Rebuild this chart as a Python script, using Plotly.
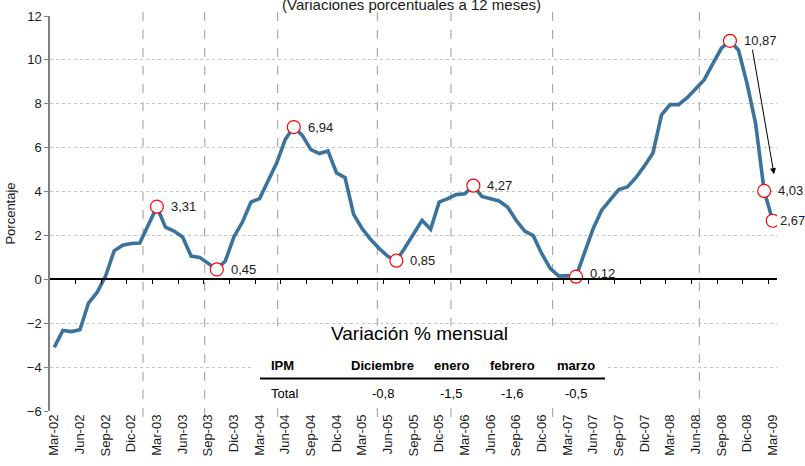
import plotly.graph_objects as go

# ---------------- data ----------------
ipm_12m = [-3.1, -2.33, -2.38, -2.3, -1.08, -0.6, 0.15, 1.3, 1.55, 1.63,
           1.65, 2.46, 3.31, 2.38, 2.2, 1.93, 1.06, 1.0, 0.74, 0.45,
           0.84, 1.93, 2.61, 3.52, 3.68, 4.51, 5.3, 6.37, 6.94, 6.56,
           5.91, 5.73, 5.85, 4.85, 4.63, 2.96, 2.31, 1.81, 1.4, 1.05,
           0.85, 1.44, 2.05, 2.69, 2.28, 3.52, 3.68, 3.86, 3.9, 4.27,
           3.78, 3.68, 3.57, 3.3, 2.69, 2.2, 1.99, 1.17, 0.49, 0.15,
           0.17, 0.12, 1.17, 2.31, 3.15, 3.6, 4.09, 4.21, 4.63, 5.17,
           5.76, 7.5, 7.96, 7.96, 8.28, 8.69, 9.1, 9.83, 10.53, 10.87,
           10.44, 8.92, 7.1, 4.03, 2.67]

destacados_idx = [12, 19, 28, 40, 49, 61, 79, 83, 84]
destacados_txt = ["3,31", "0,45", "6,94", "0,85", "4,27", "0,12", "10,87", "4,03", "2,67"]

tick_idx = list(range(0, 85, 3))
tick_labels = ["Mar-02", "Jun-02", "Sep-02", "Dic-02", "Mar-03", "Jun-03", "Sep-03", "Dic-03",
               "Mar-04", "Jun-04", "Sep-04", "Dic-04", "Mar-05", "Jun-05", "Sep-05", "Dic-05",
               "Mar-06", "Jun-06", "Sep-06", "Dic-06", "Mar-07", "Jun-07", "Sep-07", "Dic-07",
               "Mar-08", "Jun-08", "Sep-08", "Dic-08", "Mar-09"]

separadores = [10.37, 17.59, 26.12, 37.77, 46.38, 58.27, 75.42]

tabla_meses = ["Diciembre", "enero", "febrero", "marzo"]
tabla_valores = [-0.8, -1.5, -1.6, -0.5]

# ---------------- figure ----------------
FONT = "Liberation Sans, Arial, sans-serif"
NARROW = "Liberation Sans Narrow, Arial Narrow, Liberation Sans, Arial, sans-serif"
x = list(range(len(ipm_12m)))

fig = go.Figure()

fig.add_trace(go.Scatter(
    x=x, y=ipm_12m, mode="lines",
    line=dict(color="#3b739c", width=3.6),
    hoverinfo="skip", showlegend=False,
))

fig.add_trace(go.Scatter(
    x=destacados_idx, y=[ipm_12m[i] for i in destacados_idx], mode="markers",
    marker=dict(symbol="circle", size=13, color="white", line=dict(color="#ff0000", width=1.2)),
    hoverinfo="skip", showlegend=False,
))

# invisible trace for the zero-line axis
fig.add_trace(go.Scatter(x=[0, 84], y=[None, None], xaxis="x2", mode="lines",
                         showlegend=False, hoverinfo="skip"))

for i, t in zip(destacados_idx, destacados_txt):
    fig.add_annotation(x=i, y=ipm_12m[i], text=t, showarrow=False,
                       xanchor="left", yanchor="middle",
                       xshift=5 if t == "2,67" else 12,
                       yshift=3 if t == "0,12" else 0,
                       font=dict(family=FONT, size=13, color="#1a1a1a"))

# arrow from the peak towards latest values
fig.add_annotation(x=84.15, y=4.79, ax=81.6, ay=10.53, axref="x", ayref="y",
                   xref="x", yref="y", text="", showarrow=True,
                   arrowhead=2, arrowsize=1.2, arrowwidth=1, arrowcolor="black")

# vertical dashed separators
for s in separadores:
    fig.add_shape(type="line", x0=s, x1=s, xref="x", yref="paper", y0=-0.015, y1=1.01,
                  line=dict(color="#9a9a9a", width=1, dash="dash"), layer="below")

# title (partly cut at top)
fig.add_annotation(text="(Variaciones porcentuales a 12 meses)", xref="paper", yref="paper",
                   x=0.4966, y=1.029, showarrow=False, xanchor="center", yanchor="middle",
                   font=dict(family=FONT, size=15, color="#1a1a1a"))

# ---------------- table ----------------
def px_x(p):
    return (p - 50) / 727.0

def px_y(p):
    return (411 - p) / 395.0

fig.add_shape(type="rect", xref="paper", yref="paper",
              x0=px_x(252), x1=px_x(608), y0=px_y(406), y1=px_y(326),
              fillcolor="white", line=dict(width=0), layer="above")
fig.add_shape(type="line", xref="paper", yref="paper",
              x0=px_x(260), x1=px_x(605), y0=px_y(378.5), y1=px_y(378.5),
              line=dict(color="black", width=2), layer="above")

fig.add_annotation(text="Variación % mensual", xref="paper", yref="paper",
                   x=px_x(420), y=px_y(333), showarrow=False, xanchor="center", yanchor="middle",
                   font=dict(family=NARROW, size=19, color="black"))
fig.add_annotation(text="<b>IPM</b>", xref="paper", yref="paper",
                   x=px_x(269), y=px_y(365.5), showarrow=False, xanchor="left", yanchor="middle",
                   font=dict(family=NARROW, size=13, color="black"))
fig.add_annotation(text="Total", xref="paper", yref="paper",
                   x=px_x(269), y=px_y(393.5), showarrow=False, xanchor="left", yanchor="middle",
                   font=dict(family=NARROW, size=13, color="black"))
col_centers = [382.5, 451, 512, 575.5]
for cx, m, v in zip(col_centers, tabla_meses, tabla_valores):
    fig.add_annotation(text=f"<b>{m}</b>", xref="paper", yref="paper",
                       x=px_x(cx), y=px_y(365.5), showarrow=False, xanchor="center", yanchor="middle",
                       font=dict(family=NARROW, size=13, color="black"))
    fig.add_annotation(text=f"{v:.1f}".replace(".", ","), xref="paper", yref="paper",
                       x=px_x(cx), y=px_y(393.5), showarrow=False, xanchor="center", yanchor="middle",
                       font=dict(family=NARROW, size=13, color="black"))

fig.update_layout(
    width=805, height=466,
    margin=dict(l=50, r=28, t=16, b=55, autoexpand=False),
    paper_bgcolor="white", plot_bgcolor="white",
    font=dict(family=FONT, size=13, color="#1a1a1a"),
    xaxis=dict(range=[-0.5, 84.5], tickmode="array", tickvals=tick_idx, ticktext=tick_labels,
               tickangle=-90, showgrid=False, zeroline=False, showline=False, ticks="",
               automargin=False,
               tickfont=dict(family=FONT, size=13, color="#1a1a1a")),
    xaxis2=dict(range=[-0.5, 84.5], overlaying="x", anchor="free", position=1/3, side="bottom",
                showgrid=False, zeroline=False, showline=True, linecolor="black", linewidth=1.5,
                ticks="outside", ticklen=4, tickcolor="black", tickwidth=1, automargin=False,
                tickmode="array", tickvals=[2.5 + 3 * k for k in range(28)], showticklabels=False),
    yaxis=dict(range=[-6, 12], tickmode="array", tickvals=list(range(-6, 13, 2)),
               showgrid=True, gridcolor="#c4c4c4", griddash="dot", gridwidth=1,
               zeroline=False, showline=True, linecolor="#808080", linewidth=1.5,
               ticks="outside", ticklen=4, tickcolor="#808080", automargin=False,
               title=dict(text="Porcentaje", font=dict(family=FONT, size=13, color="#1a1a1a"), standoff=8),
               tickfont=dict(family=FONT, size=13, color="#1a1a1a")),
)

fig.write_html("out.html", config={"displayModeBar": False},
               post_script="document.body.style.margin='0px';")
